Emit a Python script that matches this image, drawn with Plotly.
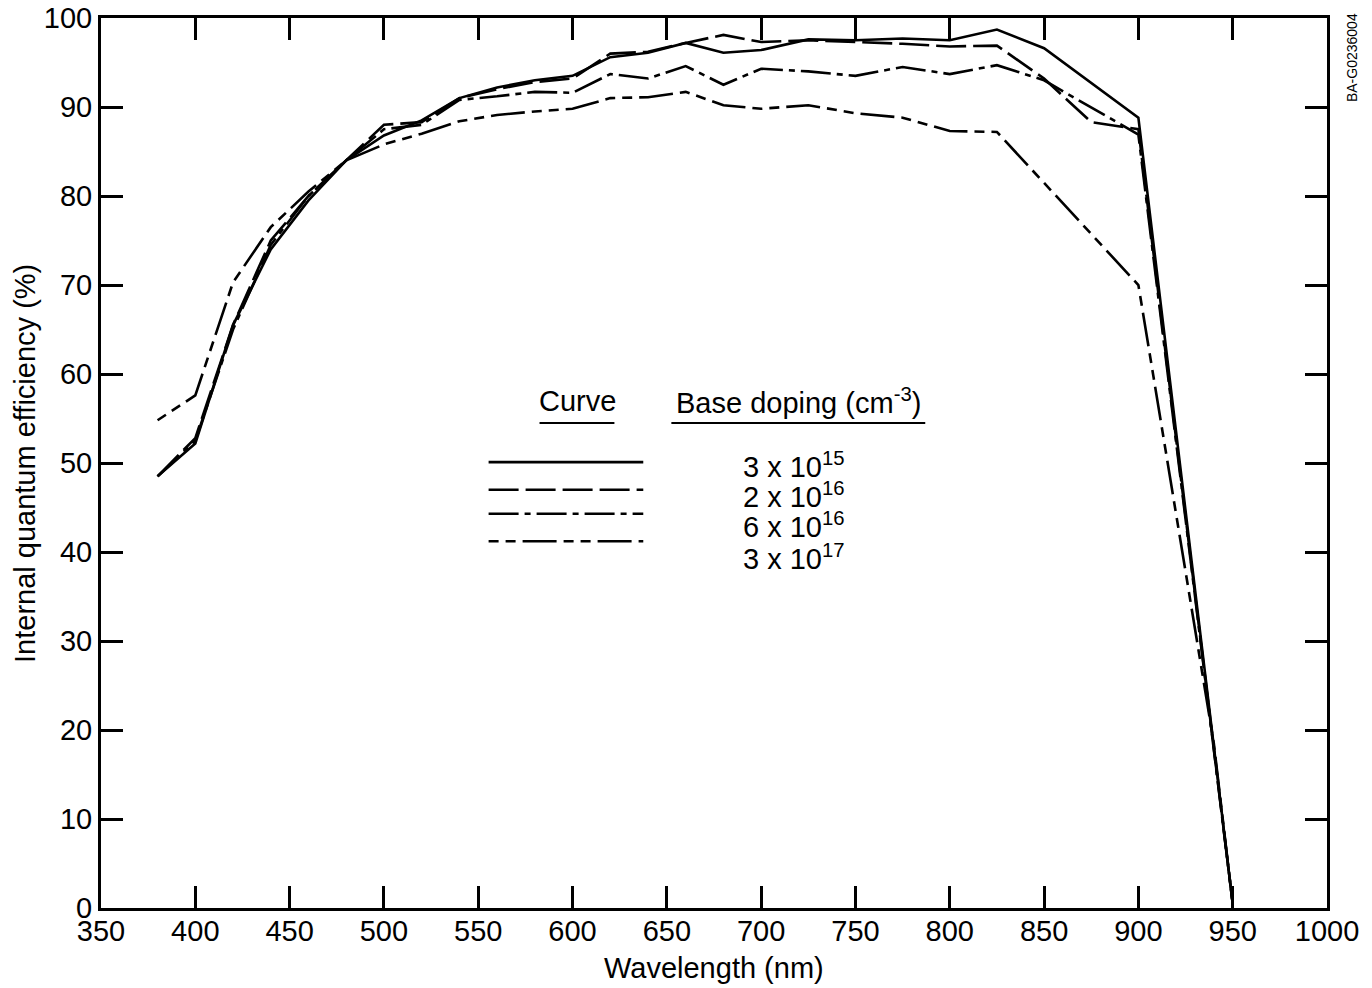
import plotly.graph_objects as go

# ---- data ----
wl_3e15 = [380, 400, 420, 440, 460, 480, 500, 520, 540, 560, 580, 600, 620, 640, 660, 680, 700, 725, 750, 775, 800, 825, 850, 900, 950]
qe_3e15 = [48.5, 52.2, 65.5, 74.0, 79.5, 84.0, 86.8, 88.5, 91.0, 92.2, 93.0, 93.5, 95.6, 96.1, 97.2, 96.1, 96.4, 97.6, 97.5, 97.7, 97.5, 98.7, 96.6, 88.8, 0.5]

wl_2e16 = [380, 400, 420, 440, 460, 480, 500, 520, 540, 560, 580, 600, 620, 640, 660, 680, 700, 725, 750, 775, 800, 825, 850, 875, 900, 950]
qe_2e16 = [48.5, 52.8, 65.5, 75.0, 80.0, 84.0, 88.0, 88.3, 91.0, 92.0, 92.8, 93.2, 96.0, 96.2, 97.2, 98.1, 97.3, 97.5, 97.3, 97.1, 96.8, 96.9, 93.2, 88.3, 87.5, 0.5]

wl_6e16 = [380, 400, 420, 440, 460, 480, 500, 520, 540, 560, 580, 600, 620, 640, 660, 680, 700, 725, 750, 775, 800, 825, 850, 900, 950]
qe_6e16 = [48.5, 52.5, 65.0, 74.5, 80.0, 84.0, 87.5, 88.0, 90.8, 91.2, 91.7, 91.6, 93.7, 93.2, 94.6, 92.5, 94.3, 94.0, 93.5, 94.5, 93.7, 94.7, 93.0, 86.9, 0.5]

wl_3e17 = [380, 400, 420, 440, 460, 480, 500, 520, 540, 560, 580, 600, 620, 640, 660, 680, 700, 725, 750, 775, 800, 825, 900, 920, 940, 950]
qe_3e17 = [54.8, 57.6, 70.3, 76.5, 80.5, 84.0, 85.8, 87.0, 88.4, 89.1, 89.5, 89.8, 91.0, 91.1, 91.7, 90.2, 89.8, 90.2, 89.3, 88.8, 87.3, 87.2, 70.0, 44.5, 18.5, 0.5]

x_ticks = [350, 400, 450, 500, 550, 600, 650, 700, 750, 800, 850, 900, 950, 1000]
y_ticks = [0, 10, 20, 30, 40, 50, 60, 70, 80, 90, 100]

doping_labels = ["3 x 10<sup>15</sup>", "2 x 10<sup>16</sup>", "6 x 10<sup>16</sup>", "3 x 10<sup>17</sup>"]

# ---- styles ----
FONT = "Liberation Sans, Arial, Helvetica, sans-serif"
FS = 29
dashes = ["solid", "30px,7px", "30px,6px,6px,6px", "10px,7px,10px,7px,34px,7px"]
LW = 2.6

series = [(wl_3e15, qe_3e15), (wl_2e16, qe_2e16), (wl_6e16, qe_6e16), (wl_3e17, qe_3e17)]

fig = go.Figure()
for (xs, ys), d, lab in zip(series, dashes, doping_labels):
    fig.add_trace(go.Scatter(x=xs, y=ys, mode="lines",
                             line=dict(color="black", width=LW, dash=d),
                             name=lab, showlegend=False))

# legend sample lines (data coordinates)
legend_y = [50.1, 47.0, 44.3, 41.2]
label_y = [49.8, 46.4, 43.0, 39.4]
for ly, d in zip(legend_y, dashes):
    fig.add_trace(go.Scatter(x=[555.5, 637.5], y=[ly, ly], mode="lines",
                             line=dict(color="black", width=LW, dash=d),
                             showlegend=False, hoverinfo="skip"))

annotations = []
for ty, lab in zip(label_y, doping_labels):
    annotations.append(dict(x=717.6, y=ty, xref="x", yref="y", text=lab, showarrow=False,
                            font=dict(family=FONT, size=FS, color="black"), xanchor="center", yanchor="middle"))
annotations.append(dict(x=602.6, y=57.0, xref="x", yref="y", text="Curve", showarrow=False,
                        font=dict(family=FONT, size=FS, color="black"), xanchor="center", yanchor="middle"))
annotations.append(dict(x=719.7, y=57.0, xref="x", yref="y", text="Base doping (cm<sup>-3</sup>)", showarrow=False,
                        font=dict(family=FONT, size=FS, color="black"), xanchor="center", yanchor="middle"))
annotations.append(dict(x=1.0204, y=0.955, xref="paper", yref="paper", text="BA-G0236004", showarrow=False,
                        textangle=-90, font=dict(family=FONT, size=14, color="black"),
                        xanchor="center", yanchor="middle"))
# axis titles
annotations.append(dict(x=-0.062, y=0.5, xref="paper", yref="paper", text="Internal quantum efficiency (%)",
                        showarrow=False, textangle=-90, font=dict(family=FONT, size=FS, color="black"),
                        xanchor="center", yanchor="middle"))
annotations.append(dict(x=0.5, y=-0.0674, xref="paper", yref="paper", text="Wavelength (nm)",
                        showarrow=False, font=dict(family=FONT, size=FS, color="black"),
                        xanchor="center", yanchor="middle"))

shapes = [
    dict(type="line", xref="x", yref="y", x0=582.5, x1=622.2, y0=54.5, y1=54.5, line=dict(color="black", width=2)),
    dict(type="line", xref="x", yref="y", x0=652.4, x1=787.0, y0=54.5, y1=54.5, line=dict(color="black", width=2)),
]

axis_common = dict(showline=True, linecolor="black", linewidth=3, mirror="allticks",
                   ticks="inside", ticklen=22, tickwidth=2.5, tickcolor="black",
                   showgrid=False, zeroline=False, automargin=False, ticklabeloverflow="allow",
                   tickfont=dict(family=FONT, size=FS, color="black"))

fig.update_layout(
    width=1372, height=988,
    margin=dict(l=101, r=45, t=18, b=80),
    paper_bgcolor="white", plot_bgcolor="white",
    xaxis=dict(range=[350, 1000], tickvals=x_ticks, ticktext=[str(v) for v in x_ticks],
               ticklabelstandoff=-5, **axis_common),
    yaxis=dict(range=[0, 100], tickvals=y_ticks, ticktext=[str(v) for v in y_ticks], **axis_common),
    annotations=annotations, shapes=shapes,
    showlegend=False,
)

fig.write_html("out.html", config={"displayModeBar": False},
               post_script="document.body.style.margin='0';")
